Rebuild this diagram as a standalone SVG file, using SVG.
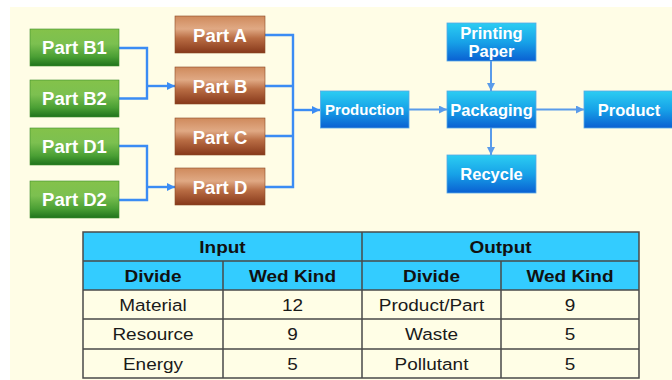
<svg xmlns="http://www.w3.org/2000/svg" width="672" height="380" viewBox="0 0 672 380">
<defs>
<linearGradient id="gGreen" x1="0" y1="0" x2="0" y2="1">
<stop offset="0" stop-color="#84c24a"/>
<stop offset="0.4" stop-color="#7cc050"/>
<stop offset="0.75" stop-color="#4a9f34"/>
<stop offset="1" stop-color="#1f731c"/>
</linearGradient>
<linearGradient id="gBrown" x1="0" y1="0" x2="0" y2="1">
<stop offset="0" stop-color="#cf8a5c"/>
<stop offset="0.35" stop-color="#e0a984"/>
<stop offset="0.6" stop-color="#b96d44"/>
<stop offset="1" stop-color="#86381a"/>
</linearGradient>
<linearGradient id="gBlue" x1="0" y1="0" x2="0" y2="1">
<stop offset="0" stop-color="#2ccdf2"/>
<stop offset="0.5" stop-color="#17a2e8"/>
<stop offset="1" stop-color="#0a60d2"/>
</linearGradient>
<marker id="arr" viewBox="0 0 10 10" refX="10" refY="5" markerWidth="8" markerHeight="8" markerUnits="userSpaceOnUse" orient="auto">
<path d="M0,0 L10,5 L0,10 z" fill="#3b8cf4"/>
</marker>
<marker id="arr2" viewBox="0 0 10 10" refX="10" refY="5" markerWidth="8" markerHeight="8" markerUnits="userSpaceOnUse" orient="auto">
<path d="M0,0 L10,5 L0,10 z" fill="#5a9bea"/>
</marker>
</defs>
<style>
.lbl{font-family:"Liberation Sans",Arial,sans-serif;font-weight:bold;fill:#ffffff;text-anchor:middle}
.f18{font-size:18.5px}
.f16{font-size:16.5px}
.f15{font-size:15px}
.green{fill:url(#gGreen);stroke:#3f8f2e;stroke-width:0.6}
.brown{fill:url(#gBrown);stroke:#8a4a26;stroke-width:0.6}
.blue{fill:url(#gBlue);stroke:#58a8e6;stroke-width:0.8}
.ln{fill:none;stroke:#3b8cf4;stroke-width:2.4}
.ln2{fill:none;stroke:#5a9bea;stroke-width:2}
.hd{fill:#33ccff}
.bd{fill:#fffee6}
.grid{fill:none;stroke:#4a4a4a;stroke-width:1.5}
.th{font-family:"Liberation Sans",Arial,sans-serif;font-weight:bold;font-size:16.5px;fill:#111;text-anchor:middle}
.td{font-family:"Liberation Sans",Arial,sans-serif;font-size:16.5px;fill:#1a1a1a;text-anchor:middle}
</style>
<rect x="0" y="0" width="672" height="380" fill="#ffffff"/>
<rect x="10" y="7" width="662" height="373" fill="#fffde6"/>

<g id="connectors">
<path class="ln" d="M119,48 H147 V98.5 H119"/>
<path class="ln" d="M147,86 H175" marker-end="url(#arr)"/>
<path class="ln" d="M119,146 H147 V200 H119"/>
<path class="ln" d="M147,187 H175" marker-end="url(#arr)"/>
<path class="ln" d="M265,35 H293 V187 H265 M265,86 H293 M265,136 H293"/>
<path class="ln" d="M293,110 H320" marker-end="url(#arr)"/>
<path class="ln2" d="M409,109.5 H447" marker-end="url(#arr2)"/>
<path class="ln2" d="M536,109.5 H584" marker-end="url(#arr2)"/>
<path class="ln2" d="M491,61 V91" marker-end="url(#arr2)"/>
<path class="ln2" d="M491,128 V155" marker-end="url(#arr2)"/>
</g>

<g id="partB1"><rect class="green" x="30" y="29" width="89" height="37"/><text class="lbl f18" x="74.5" y="54">Part B1</text></g>
<g id="partB2"><rect class="green" x="30" y="80" width="89" height="37"/><text class="lbl f18" x="74.5" y="105">Part B2</text></g>
<g id="partD1"><rect class="green" x="30" y="128" width="89" height="37"/><text class="lbl f18" x="74.5" y="153">Part D1</text></g>
<g id="partD2"><rect class="green" x="30" y="181" width="89" height="37"/><text class="lbl f18" x="74.5" y="206">Part D2</text></g>

<g id="partA"><rect class="brown" x="175" y="16" width="90" height="37"/><text class="lbl f18" x="220" y="41.5">Part A</text></g>
<g id="partB"><rect class="brown" x="175" y="67" width="90" height="37"/><text class="lbl f18" x="220" y="92.5">Part B</text></g>
<g id="partC"><rect class="brown" x="175" y="118" width="90" height="37"/><text class="lbl f18" x="220" y="143.5">Part C</text></g>
<g id="partD"><rect class="brown" x="175" y="168" width="90" height="37"/><text class="lbl f18" x="220" y="193.5">Part D</text></g>

<g id="production"><rect class="blue" x="320.5" y="91" width="88.5" height="37"/><text class="lbl f15" x="364.7" y="115">Production</text></g>
<g id="printingPaper"><rect class="blue" x="447" y="23" width="89" height="38"/><text class="lbl f16" x="491.5" y="39">Printing</text><text class="lbl f16" x="491.5" y="57">Paper</text></g>
<g id="packaging"><rect class="blue" x="447" y="91" width="89" height="37"/><text class="lbl f16" x="491.5" y="115.5">Packaging</text></g>
<g id="recycle"><rect class="blue" x="447" y="155" width="89" height="38"/><text class="lbl f16" x="491.5" y="180">Recycle</text></g>
<g id="product"><rect class="blue" x="584" y="91" width="90" height="37"/><text class="lbl f16" x="629" y="115.5">Product</text></g>

<g id="table">
<rect class="hd" x="83" y="232" width="556" height="58"/>
<rect class="bd" x="83" y="290" width="556" height="88"/>
<path class="grid" d="M83,232 H639 V378 H83 Z M83,261 H639 M83,290 H639 M83,319 H639 M83,349 H639 M362,232 V378 M223,261 V378 M501,261 V378"/>
<text class="th" transform="translate(222.5,252.5) scale(1.15,1)">Input</text>
<text class="th" transform="translate(500.5,252.5) scale(1.15,1)">Output</text>
<text class="th" transform="translate(153,281.5) scale(1.15,1)">Divide</text>
<text class="th" transform="translate(292.5,281.5) scale(1.15,1)">Wed Kind</text>
<text class="th" transform="translate(431.5,281.5) scale(1.15,1)">Divide</text>
<text class="th" transform="translate(570,281.5) scale(1.15,1)">Wed Kind</text>
<text class="td" transform="translate(153,310.5) scale(1.15,1)">Material</text>
<text class="td" transform="translate(292.5,310.5) scale(1.15,1)">12</text>
<text class="td" transform="translate(431.5,310.5) scale(1.15,1)">Product/Part</text>
<text class="td" transform="translate(570,310.5) scale(1.15,1)">9</text>
<text class="td" transform="translate(153,340) scale(1.15,1)">Resource</text>
<text class="td" transform="translate(292.5,340) scale(1.15,1)">9</text>
<text class="td" transform="translate(431.5,340) scale(1.15,1)">Waste</text>
<text class="td" transform="translate(570,340) scale(1.15,1)">5</text>
<text class="td" transform="translate(153,369.5) scale(1.15,1)">Energy</text>
<text class="td" transform="translate(292.5,369.5) scale(1.15,1)">5</text>
<text class="td" transform="translate(431.5,369.5) scale(1.15,1)">Pollutant</text>
<text class="td" transform="translate(570,369.5) scale(1.15,1)">5</text>
</g>
</svg>
